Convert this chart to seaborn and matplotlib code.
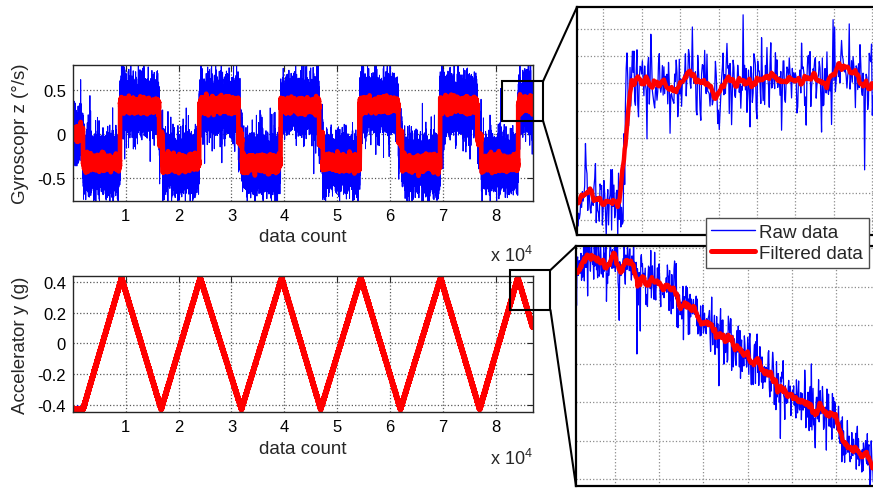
import numpy as np
import pandas as pd
import matplotlib
matplotlib.use("Agg")
import matplotlib.pyplot as plt
import seaborn as sns
from matplotlib.patches import Rectangle, ConnectionPatch
from matplotlib.lines import Line2D

# ---------------- recorded signals ----------------
n_samples = 87000

# gyroscope z: sample index where each constant rate phase starts, and its rate (deg/s)
gyro_starts = [0, 1900, 8900, 16300, 17000, 23900, 31300, 32000, 39300,
               46600, 47300, 54300, 61600, 62300, 69500, 76600, 77300, 84280]
gyro_levels = [0.0, -0.33, 0.33, -0.05, -0.33, 0.33, -0.05, -0.33, 0.33,
               -0.05, -0.33, 0.33, -0.05, -0.33, 0.33, -0.05, -0.33, 0.33]

# accelerometer y: turning points of the tilt sweep (sample, g)
acc_x = [0, 1900, 9200, 16700, 24100, 31900, 39500, 46900, 54500,
         62000, 69600, 77000, 84200, 84260, 87000]
acc_y = [-0.43, -0.43, 0.427, -0.43, 0.427, -0.43, 0.427, -0.43, 0.427,
         -0.43, 0.427, -0.43, 0.427, 0.427, 0.11]

# sensor noise: white part, slow drift part, and filter length (samples)
gyro_white_sd, gyro_drift_sd, gyro_window = 0.113, 0.024, 16
acc_white_sd, acc_drift_sd, acc_window = 0.0045, 0.0012, 12

# axis ticks
x_ticks = [10000, 20000, 30000, 40000, 50000, 60000, 70000, 80000]
x_tick_labels = ["1", "2", "3", "4", "5", "6", "7", "8"]
gyro_ticks = [-0.5, 0, 0.5]
gyro_tick_labels = ["-0.5", "0", "0.5"]
acc_ticks = [-0.4, -0.2, 0, 0.2, 0.4]
acc_tick_labels = ["-0.4", "-0.2", "0", "0.2", "0.4"]

# zoom windows marked on the overview plots: (x0, x1, y0, y1)
gyro_box = [81260, 89000, 0.15, 0.60]
acc_box = [82700, 90400, 0.219, 0.48]

# detail views: limits and grid spacing
gyro_zoom_x = [84216, 84636]
gyro_zoom_y = [-0.532, 0.718]
gyro_zoom_grid = [50, 0.15]
acc_zoom_x = [84170, 84755]
acc_zoom_y = [0.3683, 0.4305]
acc_zoom_grid = [80, 0.01]

# ---------------- build sample series ----------------
idx = np.arange(n_samples)
gyro_true = np.array(gyro_levels)[np.searchsorted(gyro_starts, idx, side="right") - 1]
acc_true = np.interp(idx, acc_x, acc_y)

rng = np.random.default_rng(11)


def smooth(sig, w):
    pad = np.pad(sig, (w, w), mode="edge")
    out = np.convolve(pad, np.ones(w) / w, mode="same")
    return out[w:-w]


def drift(sd, w):
    d = smooth(rng.standard_normal(n_samples), w)
    return sd * d / d.std()


gyro_raw = (gyro_true + drift(gyro_drift_sd, 25)
            + gyro_white_sd * rng.standard_t(8, n_samples) * 0.87)
acc_raw = (acc_true + drift(acc_drift_sd, 20)
           + acc_white_sd * rng.standard_t(8, n_samples) * 0.87)

gyro_filt = smooth(gyro_raw, gyro_window)
acc_filt = smooth(acc_raw, acc_window)

df = pd.DataFrame({"count": idx, "gyro_raw": gyro_raw, "gyro_filt": gyro_filt,
                   "acc_raw": acc_raw, "acc_filt": acc_filt})

# ---------------- figure ----------------
sns.set_style("white")
plt.rcParams["font.family"] = ["Liberation Sans", "DejaVu Sans"]
plt.rcParams["axes.edgecolor"] = "#262626"

W, H = 873, 489
fig = plt.figure(figsize=(W / 100, H / 100), dpi=100)


def box(l, t, r, b):
    return [l / W, 1 - b / H, (r - l) / W, (b - t) / H]


ax_g = fig.add_axes(box(73, 66, 532.5, 202))
ax_a = fig.add_axes(box(73, 276.7, 532.5, 413))
in_g = fig.add_axes(box(577, 8, 900, 236))
in_a = fig.add_axes(box(576, 247, 900, 487))

RAW = "#0000ff"
FILT = "#ff0000"


def draw(ax, data, raw, filt, raw_lw, filt_lw):
    sns.lineplot(data=data, x="count", y=raw, ax=ax, color=RAW, lw=raw_lw,
                 estimator=None, sort=False, legend=False)
    sns.lineplot(data=data, x="count", y=filt, ax=ax, color=FILT, lw=filt_lw,
                 estimator=None, sort=False, legend=False)


draw(ax_g, df, "gyro_raw", "gyro_filt", 0.7, 3.3)
draw(ax_a, df, "acc_raw", "acc_filt", 0.7, 4.0)

for ax, yt, ytl, ylim, ylab, off in [
        (ax_g, gyro_ticks, gyro_tick_labels, (-0.76, 0.785), "Gyroscopr z (°/s)", -0.44),
        (ax_a, acc_ticks, acc_tick_labels, (-0.448, 0.443), "Accelerator y (g)", -0.38)]:
    ax.set_xlim(0, n_samples)
    ax.set_ylim(*ylim)
    ax.set_xticks(x_ticks)
    ax.set_xticklabels(x_tick_labels)
    ax.set_yticks(yt)
    ax.set_yticklabels(ytl)
    ax.tick_params(direction="in", top=True, right=True, length=4, width=0.8,
                   labelsize=12, pad=5, colors="#262626", labelcolor="black")
    ax.grid(True, linestyle=":", color="0.35", lw=0.9)
    ax.set_axisbelow(True)
    for s in ax.spines.values():
        s.set_linewidth(1.0)
    ax.set_xlabel("data count", fontsize=13.5, labelpad=4)
    ax.set_ylabel(ylab, fontsize=13.5)
    ax.yaxis.set_label_coords(-0.095, 0.5)
    ax.text(1.0, off, r"x 10$^{\mathregular{4}}$", transform=ax.transAxes,
            ha="right", va="baseline", fontsize=13)

# detail views
sub_g = df[(df["count"] > gyro_zoom_x[0] - 50) & (df["count"] < gyro_zoom_x[1] + 50)]
sub_a = df[(df["count"] > acc_zoom_x[0] - 50) & (df["count"] < acc_zoom_x[1] + 50)]
draw(in_g, sub_g, "gyro_raw", "gyro_filt", 0.9, 3.2)
draw(in_a, sub_a, "acc_raw", "acc_filt", 0.9, 3.2)

for ax, xl, yl, step in [(in_g, gyro_zoom_x, gyro_zoom_y, gyro_zoom_grid),
                         (in_a, acc_zoom_x, acc_zoom_y, acc_zoom_grid)]:
    ax.set_xlim(*xl)
    ax.set_ylim(*yl)
    ax.set_xticks(np.arange(np.ceil(xl[0] / step[0]) * step[0], xl[1], step[0]))
    ax.set_yticks(np.arange(np.ceil(yl[0] / step[1] - 1e-6) * step[1], yl[1], step[1]))
    ax.tick_params(length=0, labelbottom=False, labelleft=False)
    ax.set_xlabel("")
    ax.set_ylabel("")
    ax.grid(True, linestyle=":", color="0.55", lw=0.9)
    ax.set_axisbelow(True)
    for s in ax.spines.values():
        s.set_linewidth(1.6)
        s.set_color("black")

# zoom markers and connectors
for ax, bx, ins in [(ax_g, gyro_box, in_g), (ax_a, acc_box, in_a)]:
    x0, x1, y0, y1 = bx
    ax.add_patch(Rectangle((x0, y0), x1 - x0, y1 - y0, fill=False, ec="black",
                           lw=1.5, clip_on=False, zorder=5))
    for yy, fy in [(y1, 1), (y0, 0)]:
        con = ConnectionPatch(xyA=(x1, yy), coordsA=ax.transData,
                              xyB=(0, fy), coordsB=ins.transAxes,
                              color="black", lw=1.5)
        fig.add_artist(con)

handles = [Line2D([], [], color=RAW, lw=1.0), Line2D([], [], color=FILT, lw=3.6)]
leg = fig.legend(handles, ["Raw data", "Filtered data"], loc="upper left",
                 bbox_to_anchor=(705.7 / W, 1 - 219 / H), frameon=True,
                 fancybox=False, edgecolor="0.3", framealpha=1, fontsize=13.5,
                 handlelength=2.35, handletextpad=0.2, labelspacing=0.22,
                 borderpad=0.3, borderaxespad=0)
leg.get_frame().set_linewidth(1.0)

fig.savefig("out.png", dpi=100)
